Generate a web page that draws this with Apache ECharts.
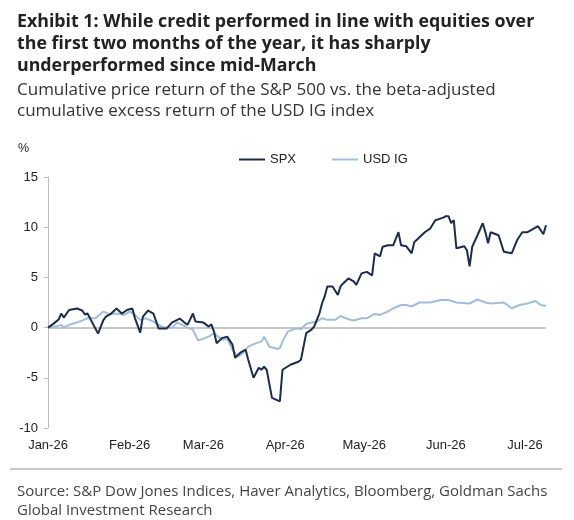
<!DOCTYPE html>
<html>
<head>
<meta charset="utf-8">
<script src="https://cdn.jsdelivr.net/npm/echarts@6/dist/echarts.min.js"></script>
<style>
  html, body { margin: 0; padding: 0; background: #fff; }
  #chart { width: 574px; height: 520px; }
</style>
</head>
<body>
<div id="chart"></div>
<script>
// SPX cumulative price return, %
var spxDates = [
  '2026-01-01','2026-01-03','2026-01-05','2026-01-06','2026-01-07','2026-01-09','2026-01-12','2026-01-14','2026-01-15','2026-01-16',
  '2026-01-17','2026-01-20','2026-01-22','2026-01-23','2026-01-25','2026-01-27','2026-01-29','2026-01-31','2026-02-02','2026-02-03',
  '2026-02-05','2026-02-06','2026-02-08','2026-02-10','2026-02-12','2026-02-15','2026-02-17','2026-02-20','2026-02-22','2026-02-23',
  '2026-02-25','2026-02-26','2026-03-01','2026-03-03','2026-03-04','2026-03-05','2026-03-06','2026-03-08','2026-03-10','2026-03-12',
  '2026-03-13','2026-03-15','2026-03-17','2026-03-18','2026-03-20','2026-03-22','2026-03-23','2026-03-24','2026-03-25','2026-03-27',
  '2026-03-30','2026-03-31','2026-04-03','2026-04-06','2026-04-07','2026-04-09','2026-04-11','2026-04-12','2026-04-14','2026-04-15',
  '2026-04-16','2026-04-17','2026-04-19','2026-04-21','2026-04-22','2026-04-23','2026-04-25','2026-04-27','2026-04-28','2026-04-30',
  '2026-05-02','2026-05-04','2026-05-05','2026-05-07','2026-05-08','2026-05-10','2026-05-12','2026-05-14','2026-05-15','2026-05-17',
  '2026-05-19','2026-05-20','2026-05-22','2026-05-24','2026-05-26','2026-05-28','2026-05-31','2026-06-01','2026-06-02','2026-06-03',
  '2026-06-04','2026-06-05','2026-06-08','2026-06-09','2026-06-10','2026-06-11','2026-06-13','2026-06-15','2026-06-16','2026-06-17',
  '2026-06-18','2026-06-21','2026-06-23','2026-06-26','2026-06-28','2026-06-30','2026-07-02','2026-07-06','2026-07-08','2026-07-09'
];
var spxValues = [
  0, 0.37, 0.8, 1.4, 1.0, 1.75, 1.9, 1.7, 1.3, 1.4,
  0.9, -0.6, 0.75, 1.1, 1.4, 1.9, 1.4, 1.75, 1.9, 0.95,
  -0.5, 1.1, 1.7, 1.4, -0.1, -0.1, 0.5, 0.9, 0.45, 0.3,
  1.4, 0.6, 0.5, 0.1, 0.33, -0.4, -1.55, -1.05, -0.9, -1.7,
  -3.0, -2.5, -2.2, -3.2, -5.0, -4.0, -4.2, -3.9, -4.2, -7.0,
  -7.35, -4.2, -3.7, -3.4, -3.2, -0.55, -0.2, 0.1, 1.4, 2.4,
  3.1, 4.1, 4.1, 3.25, 4.1, 4.4, 4.9, 4.6, 4.25, 5.4,
  5.55, 5.2, 7.4, 7.1, 8.05, 8.2, 8.2, 9.5, 8.2, 8.1,
  7.4, 8.5, 9.0, 9.5, 9.85, 10.7, 10.95, 11.1, 11.1, 10.4,
  10.7, 7.9, 8.1, 7.7, 6.1, 8.05, 9.2, 10.4, 9.5, 8.4,
  9.5, 9.2, 7.55, 7.4, 8.7, 9.5, 9.5, 10.1, 9.3, 10.2
];

// USD IG beta-adjusted cumulative excess return, %
var igDates = [
  '2026-01-01','2026-01-04','2026-01-06','2026-01-07','2026-01-09','2026-01-11','2026-01-13','2026-01-16','2026-01-19','2026-01-22',
  '2026-01-24','2026-01-26','2026-01-28','2026-01-30','2026-02-01','2026-02-03','2026-02-05','2026-02-07','2026-02-10','2026-02-12',
  '2026-02-14','2026-02-17','2026-02-19','2026-02-21','2026-02-23','2026-02-25','2026-02-27','2026-02-28','2026-03-03','2026-03-05',
  '2026-03-08','2026-03-10','2026-03-12','2026-03-14','2026-03-16','2026-03-18','2026-03-21','2026-03-23','2026-03-24','2026-03-26',
  '2026-03-29','2026-03-30','2026-03-31','2026-04-02','2026-04-04','2026-04-06','2026-04-07','2026-04-09','2026-04-11','2026-04-13',
  '2026-04-15','2026-04-17','2026-04-20','2026-04-22','2026-04-25','2026-04-27','2026-04-30','2026-05-02','2026-05-05','2026-05-07',
  '2026-05-10','2026-05-12','2026-05-15','2026-05-17','2026-05-19','2026-05-22','2026-05-26','2026-05-30','2026-06-02','2026-06-05',
  '2026-06-10','2026-06-13','2026-06-16','2026-06-18','2026-06-23','2026-06-26','2026-06-29','2026-07-02','2026-07-05','2026-07-07',
  '2026-07-09'
];
var igValues = [
  0, 0.1, 0.27, 0.03, 0.27, 0.43, 0.6, 0.93, 0.93, 1.6,
  1.36, 1.4, 1.36, 1.26, 1.6, 1.26, 0.77, 0.93, 0.6, 0.27,
  0.0, 0.0, 0.5, 0.27, 0.0, -0.23, -1.3, -1.2, -0.9, -0.56,
  -1.2, -1.1, -2.2, -2.9, -2.55, -1.9, -1.55, -1.4, -0.9, -1.9,
  -2.1, -2.05, -1.4, -0.4, -0.17, -0.07, -0.17, 0.37, 0.5, 0.6,
  0.93, 0.77, 0.77, 1.16, 0.83, 0.7, 0.93, 0.93, 1.36, 1.26,
  1.6, 1.93, 2.25, 2.25, 2.1, 2.5, 2.5, 2.75, 2.75, 2.5,
  2.4, 2.8, 2.5, 2.4, 2.5, 1.93, 2.25, 2.4, 2.65, 2.25,
  2.15
];

var yTicks = [-10, -5, 0, 5, 10, 15];
var monthNames = ['Jan','Feb','Mar','Apr','May','Jun','Jul','Aug','Sep','Oct','Nov','Dec'];

function zip(dates, vals) {
  return dates.map(function(d, i){ return [d, vals[i]]; });
}

var chart = echarts.init(document.getElementById('chart'));
var axisFont = 'Liberation Sans, Arial, sans-serif';
var textFont = '"Open Sans", "Noto Sans", sans-serif';

var option = {
  animation: false,
  title: [{
    text: 'Exhibit 1: While credit performed in line with equities over\nthe first two months of the year, it has sharply\nunderperformed since mid-March',
    left: 12, top: 6,
    textStyle: { fontFamily: textFont, fontWeight: 'bold', fontSize: 17.8, lineHeight: 22, color: '#222' }
  }, {
    text: 'Cumulative price return of the S&P 500 vs. the beta-adjusted\ncumulative excess return of the USD IG index',
    left: 12, top: 75,
    textStyle: { fontFamily: textFont, fontWeight: 'normal', fontSize: 17, lineHeight: 21, color: '#333' }
  }, {
    text: 'Source: S&P Dow Jones Indices, Haver Analytics, Bloomberg, Goldman Sachs\nGlobal Investment Research',
    left: 12, top: 477,
    textStyle: { fontFamily: textFont, fontWeight: 'normal', fontSize: 15, lineHeight: 19, color: '#444' }
  }],
  graphic: [{
    type: 'text', left: 18, top: 142,
    style: { text: '%', fontFamily: axisFont, fontSize: 12.5, fill: '#222' }
  }, {
    type: 'line',
    shape: { x1: 10, y1: 469, x2: 562, y2: 469 },
    style: { stroke: '#c8c8c8', lineWidth: 2 }
  }],
  legend: {
    top: 148, left: 234,
    itemGap: 36,
    itemWidth: 26, itemHeight: 2,
    icon: 'rect',
    textStyle: { fontFamily: axisFont, fontSize: 13, color: '#222' },
    data: ['SPX', 'USD IG']
  },
  grid: { left: 48, top: 177, right: 28, bottom: 92 },
  xAxis: {
    type: 'time',
    min: '2026-01-01',
    max: '2026-07-09',
    minInterval: 28 * 86400000,
    maxInterval: 31 * 86400000,
    axisLine: { show: false },
    axisTick: { show: false },
    splitLine: { show: false },
    axisLabel: {
      fontFamily: axisFont, fontSize: 13, color: '#222', margin: 11,
      showMaxLabel: false,
      formatter: function(v){
        var d = new Date(v);
        return monthNames[d.getMonth()] + '-' + String(d.getFullYear()).slice(2);
      }
    }
  },
  yAxis: {
    type: 'value',
    min: yTicks[0], max: yTicks[yTicks.length - 1], interval: 5,
    axisLine: { show: true, lineStyle: { color: '#bdbdbd', width: 1 } },
    axisTick: { show: true, length: 4, lineStyle: { color: '#bdbdbd' } },
    splitLine: { show: false },
    axisLabel: { fontFamily: axisFont, fontSize: 13, color: '#222', margin: 10 }
  },
  series: [{
    name: 'SPX',
    type: 'line',
    data: zip(spxDates, spxValues),
    symbol: 'none',
    color: '#1b2d48',
    lineStyle: { width: 2, color: '#1b2d48' },
    z: 3
  }, {
    name: 'USD IG',
    type: 'line',
    data: zip(igDates, igValues),
    symbol: 'none',
    color: '#a2bdd8',
    lineStyle: { width: 2, color: '#a2bdd8' },
    z: 2,
    markLine: {
      silent: true,
      symbol: 'none',
      label: { show: false },
      lineStyle: { color: '#b4b4b4', width: 1.5, type: 'solid' },
      data: [{ yAxis: 0 }],
      z: 1
    }
  }]
};
chart.setOption(option);
</script>
</body>
</html>
